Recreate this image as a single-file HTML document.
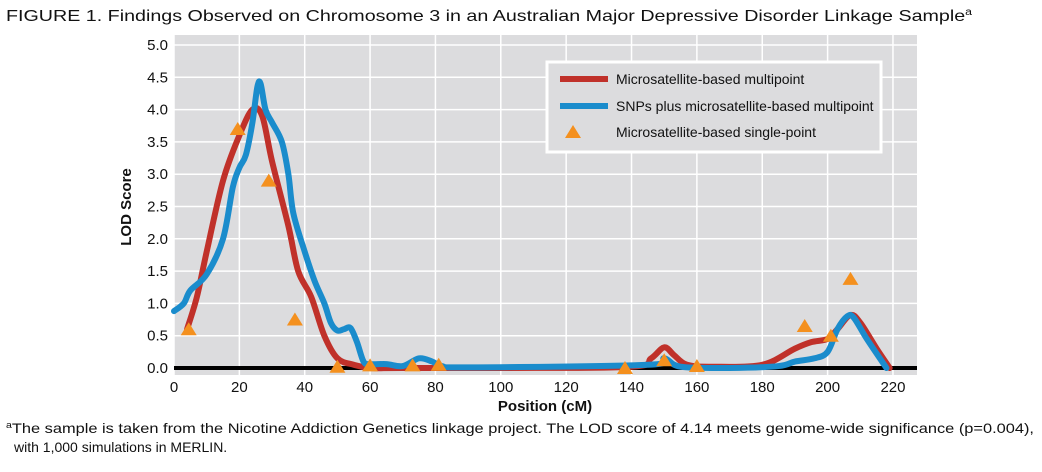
<!DOCTYPE html>
<html><head><meta charset="utf-8"><style>
body{margin:0;background:#fff;width:1042px;height:467px;overflow:hidden}
svg text{font-family:"Liberation Sans",sans-serif;fill:#111}
</style></head><body>
<svg id="chart" width="1042" height="467" xmlns="http://www.w3.org/2000/svg">
<text x="6" y="21" font-size="16" textLength="966" lengthAdjust="spacingAndGlyphs">FIGURE 1. Findings Observed on Chromosome 3 in an Australian Major Depressive Disorder Linkage Sample<tspan font-size="10" dy="-6">a</tspan></text>
<rect x="174" y="35" width="743" height="340" fill="#dcdcde"/>
<g id="grid"></g>
<line x1="174" x2="917" y1="368" y2="368" stroke="#000" stroke-width="4"/>
<g id="series"></g>
<g id="ticks"></g>
<text transform="translate(131,207) rotate(-90)" text-anchor="middle" font-size="15" font-weight="bold">LOD Score</text>
<text x="545" y="411" text-anchor="middle" font-size="15" font-weight="bold">Position (cM)</text>
<g>
<rect x="547" y="62" width="334" height="90" fill="#dcdcde" stroke="#fff" stroke-width="3"/>
<line x1="560" x2="608" y1="79" y2="79" stroke="#c0312a" stroke-width="6"/>
<text x="616" y="84" font-size="14">Microsatellite-based multipoint</text>
<line x1="560" x2="608" y1="106" y2="106" stroke="#1a8ccc" stroke-width="6"/>
<text x="616" y="111" font-size="14">SNPs plus microsatellite-based multipoint</text>
<polygon points="573,125 565,138 581,138" fill="#f4901e"/>
<text x="616" y="137" font-size="14">Microsatellite-based single-point</text>
</g>
<text font-size="14"><tspan x="6" y="433" textLength="1028" lengthAdjust="spacingAndGlyphs"><tspan font-size="9" dy="-5">a</tspan><tspan dy="5">The sample is taken from the Nicotine Addiction Genetics linkage project. The LOD score of 4.14 meets genome-wide significance (p=0.004),</tspan></tspan><tspan x="14" y="452">with 1,000 simulations in MERLIN.</tspan></text>
</svg>
<script>
const xTicks=[0,20,40,60,80,100,120,140,160,180,200,220];
const yTicks=[0,0.5,1,1.5,2,2.5,3,3.5,4,4.5,5];
const redX=[4,7,10,15,20,24,27,30,35,38,42,46,50,55,60,70,100,140,146,150,153,157,165,180,190,195,200,203,207,210,215,219];
const redY=[0.6,1.1,1.8,2.9,3.6,4.0,3.9,3.2,2.2,1.5,1.1,0.5,0.15,0.05,0,0,0,0.02,0.15,0.32,0.2,0.05,0.02,0.05,0.3,0.4,0.45,0.6,0.82,0.7,0.3,0];
const blueX=[0,3,5,10,15,18,20,22,24,25.5,26.5,28,30,33,35,36.5,40,43,46,48,50,52,54,56,58,60,65,70,75,79,82,90,145,150,155,170,185,190,196,200,203,206,208,212,218];
const blueY=[0.88,1.0,1.2,1.45,2.0,2.8,3.1,3.3,3.8,4.35,4.4,4.0,3.8,3.5,3.0,2.4,1.8,1.35,1.0,0.7,0.58,0.6,0.62,0.4,0.1,0.06,0.06,0.03,0.15,0.1,0.03,0.01,0.05,0.15,0.02,0,0.03,0.1,0.15,0.25,0.6,0.8,0.78,0.45,0];
const triX=[4.5,19.5,29,37,50,60,73,81,138,150,160,193,201,207];
const triY=[0.6,3.7,2.9,0.75,0.02,0.04,0.04,0.05,0,0.12,0.03,0.65,0.5,1.38];
const sx=v=>174+v*3.268, sy=v=>368-v*64.6;
const NS='http://www.w3.org/2000/svg';
function mk(tag,attrs,parent){const e=document.createElementNS(NS,tag);for(const k in attrs)e.setAttribute(k,attrs[k]);parent.appendChild(e);return e;}
const grid=document.getElementById('grid'),ticks=document.getElementById('ticks'),series=document.getElementById('series');
xTicks.forEach(t=>{
 const l=mk('line',{x1:sx(t),x2:sx(t),y1:35,y2:375,stroke:'#fff','stroke-width':1.5},grid);
 
 
 const tx=mk('text',{x:sx(t),y:392,'text-anchor':'middle','font-size':15},ticks);tx.textContent=t;
 
 
});
yTicks.forEach(t=>{
 const l=mk('line',{x1:174,x2:917,y1:sy(t),y2:sy(t),stroke:'#fff','stroke-width':1.5},grid);
 
 
 const tx=mk('text',{x:168,y:sy(t)+5,'text-anchor':'end','font-size':15},ticks);tx.textContent=t.toFixed(1);
 
 
});
function smooth(xs,ys){
 const p=xs.map((x,i)=>[sx(x),sy(ys[i])]);
 let d='M'+p[0][0]+','+p[0][1];
 for(let i=0;i<p.length-1;i++){
  const p0=p[Math.max(i-1,0)],p1=p[i],p2=p[i+1],p3=p[Math.min(i+2,p.length-1)];
  const c1=[p1[0]+(p2[0]-p0[0])/6,p1[1]+(p2[1]-p0[1])/6],c2=[p2[0]-(p3[0]-p1[0])/6,p2[1]-(p3[1]-p1[1])/6];
  d+=` C${c1[0]},${c1[1]} ${c2[0]},${c2[1]} ${p2[0]},${p2[1]}`;
 }
 return d;
}
const red=mk('path',{d:smooth(redX,redY),fill:'none',stroke:'#c0312a','stroke-width':6,'stroke-linejoin':'round','stroke-linecap':'round'},series);


const blue=mk('path',{d:smooth(blueX,blueY),fill:'none',stroke:'#1a8ccc','stroke-width':6,'stroke-linejoin':'round','stroke-linecap':'round'},series);


triX.forEach((x,i)=>{
 const cx=sx(x),cy=sy(triY[i]);
 const t=mk('polygon',{points:`${cx},${cy-7} ${cx-8},${cy+6} ${cx+8},${cy+6}`,fill:'#f4901e'},series);
 
 
});
</script>
</body></html>
